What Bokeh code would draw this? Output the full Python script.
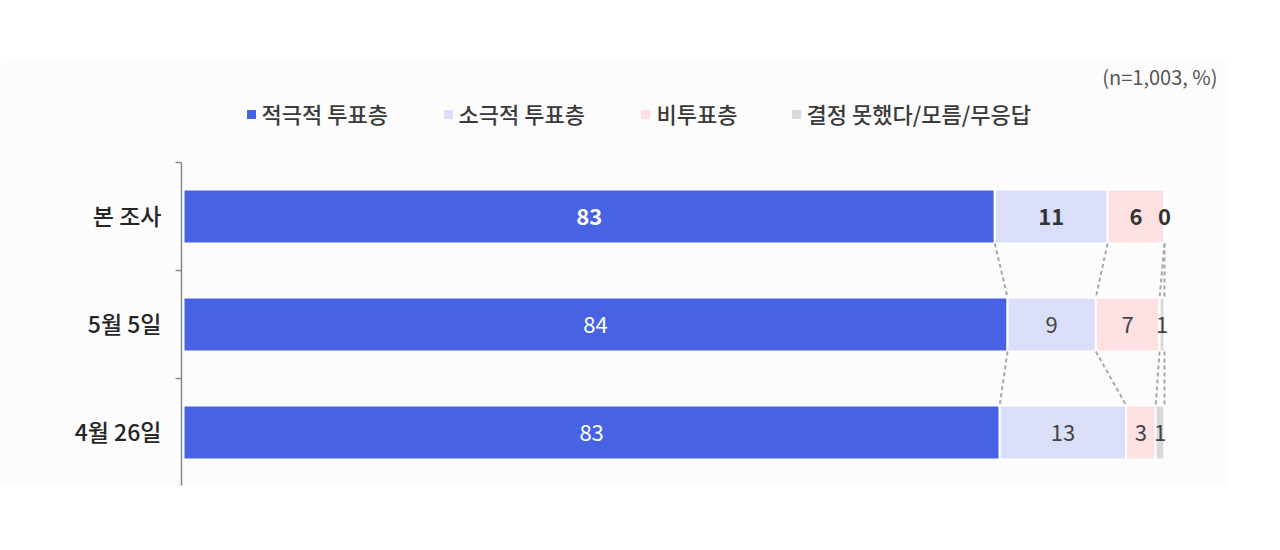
import numpy as np
from bokeh.plotting import figure
from bokeh.models import Range1d
from bokeh.core.properties import value
from bokeh.embed import file_html
from bokeh.resources import INLINE

# --- data ---
categories = ["본 조사", "5월 5일", "4월 26일"]
series_names = ["적극적 투표층", "소극적 투표층", "비투표층", "결정 못했다/모름/무응답"]
active = [82.7, 84.0, 83.2]
passive = [11.5, 9.0, 12.9]
non_voter = [5.8, 6.5, 3.0]
undecided = [0.0, 0.5, 0.9]
label_active = ["83", "84", "83"]
label_passive = ["11", "9", "13"]
label_non = ["6", "7", "3"]
label_undecided = ["0", "1", "1"]
note = "(n=1,003, %)"

colors = ["#4763e3", "#dadef8", "#fde0e2", "#d9d9d9"]
FONT = "Noto Sans CJK KR"
FONT_MED = "Noto Sans CJK KR Medium"

# scale: 9.81 px per percentage point, bars start at x=183
PX = 9.81
x0_px = 183
frame_left, frame_right = 0, 1226
frame_top, frame_bottom = 62, 485
row0_px, band = 216, 108
W, H = 1264, 534

x_start = (frame_left - x0_px) / PX
x_end = (frame_right - x0_px) / PX
y_top = (frame_top - row0_px) / band
y_bot = (frame_bottom - row0_px) / band

p = figure(
    width=W, height=H,
    x_range=Range1d(x_start, x_end),
    y_range=Range1d(y_bot, y_top),
    output_backend="svg", toolbar_location=None,
    min_border_left=frame_left, min_border_right=W - frame_right,
    min_border_top=frame_top, min_border_bottom=H - frame_bottom,
    background_fill_color="#fcfcfc", border_fill_color="white",
)
p.outline_line_color = None
p.xaxis.visible = False
p.yaxis.visible = False
p.grid.visible = False

def px_x(v):
    return (v - x0_px) / PX

def px_y(v):
    return (v - row0_px) / band

rows = np.arange(len(categories))
segments = [active, passive, non_voter, undecided]
labels = [label_active, label_passive, label_non, label_undecided]

lefts = np.zeros(len(categories))
bounds = [lefts.copy()]
for vals, col in zip(segments, colors):
    vals = np.array(vals)
    p.hbar(y=rows, left=lefts, right=lefts + vals, height=0.5,
           fill_color=col, line_color="white", line_width=2)
    lefts = lefts + vals
    bounds.append(lefts.copy())

# dashed connectors between adjacent bars
for b in bounds[1:]:
    for i in range(len(categories) - 1):
        p.segment(x0=b[i], y0=i + 0.25, x1=b[i + 1], y1=i + 0.75,
                  line_color="#a8a8a8", line_width=2, line_dash="4 3")

# value labels
for k, (vals, labs) in enumerate(zip(segments, labels)):
    centers = bounds[k] + np.array(vals) / 2
    for i in range(len(categories)):
        bold = i == 0
        color = "white" if k == 0 else ("#333333" if bold else "#444444")
        p.text(x=[centers[i]], y=[i], text=[labs[i]],
               text_align="center", text_baseline="middle",
               text_font=value(FONT), text_font_size="22px",
               text_font_style="bold" if bold else "normal",
               text_color=color)

# category axis (bracket line with ticks)
ax_x = px_x(181)
tick_x = px_x(175)
p.segment(x0=[ax_x], y0=[-0.5], x1=[ax_x], y1=[len(categories) - 0.5],
          line_color="#888888", line_width=1.5)
ticks = np.arange(len(categories) + 1) - 0.5
p.segment(x0=[tick_x] * len(ticks), y0=ticks, x1=[ax_x] * len(ticks), y1=ticks,
          line_color="#888888", line_width=1.5)
p.text(x=[px_x(161)] * len(categories), y=rows - 2 / band, text=categories,
       text_align="right", text_baseline="middle",
       text_font=value(FONT_MED), text_font_size="23px",
       text_color="#262626")

# legend
leg_y = px_y(114)
sq_x = [px_x(v) for v in (251, 448, 645, 796)]
txt_x = [px_x(v) for v in (261, 458, 656, 806)]
p.scatter(x=sq_x, y=[leg_y] * 4, marker="square", size=9,
          fill_color=colors, line_color=None)
p.text(x=txt_x, y=[px_y(112)] * 4, text=series_names,
       text_align="left", text_baseline="middle",
       text_font=value(FONT_MED), text_font_size="22px",
       text_color="#3a3a3a")

# sample note
p.text(x=[px_x(1217)], y=[px_y(76)], text=[note],
       text_align="right", text_baseline="middle",
       text_font=value(FONT), text_font_size="20px", text_color="#555555")

open("out.html", "w").write(file_html(p, INLINE))
